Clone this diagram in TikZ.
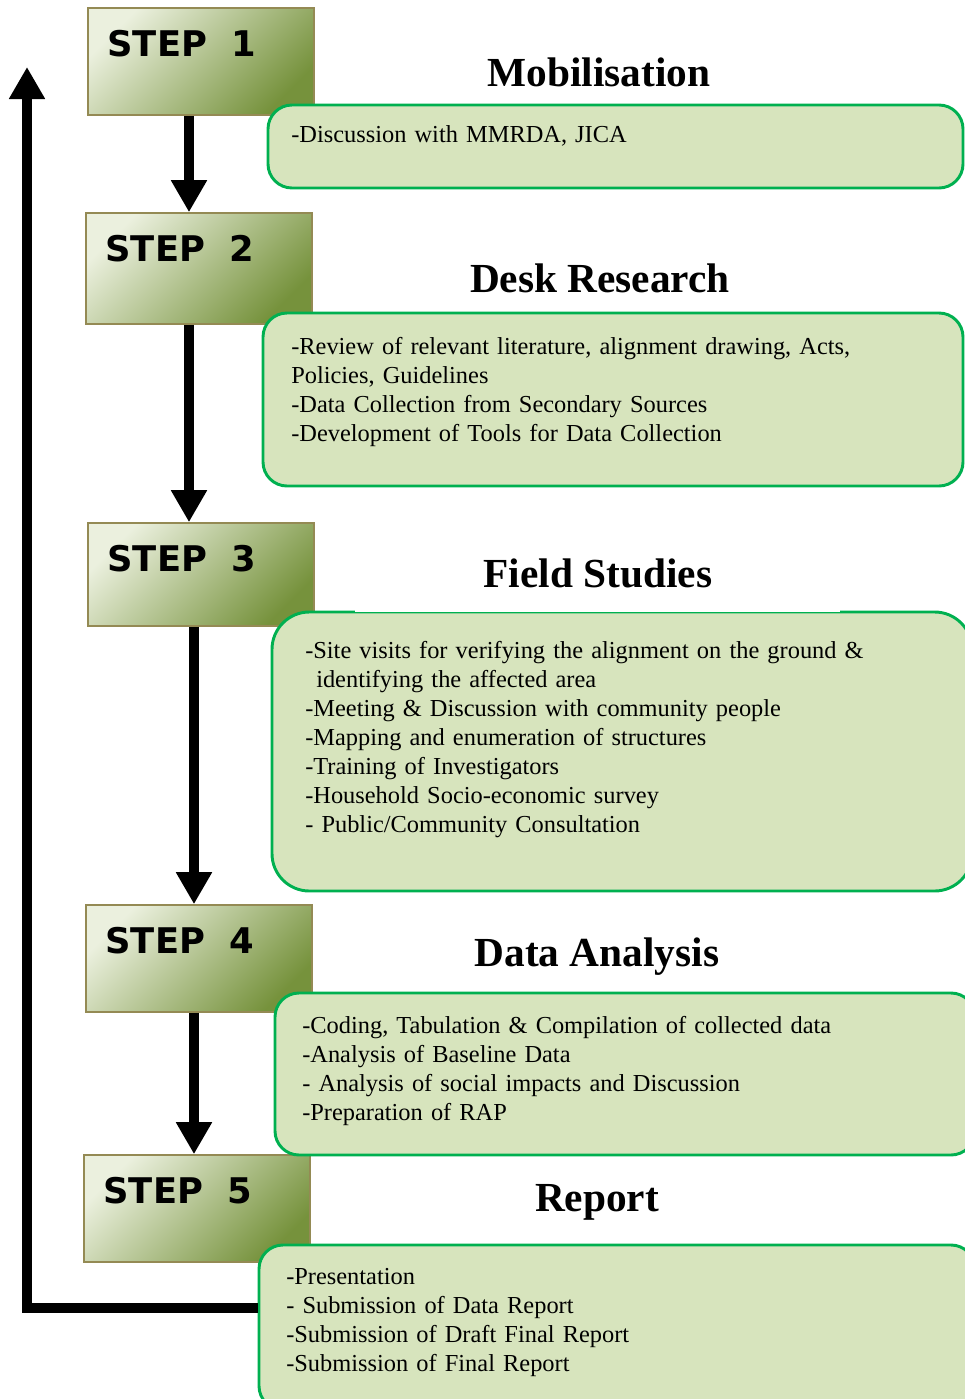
\documentclass[tikz,border=0pt]{standalone}
\usepackage{fontspec}
\setmainfont{Liberation Serif}
\newfontfamily\stepfont{DejaVu Sans}
\usetikzlibrary{arrows.meta}
\definecolor{stepLight}{HTML}{EBF0DE}
\definecolor{stepDark}{HTML}{76923C}
\definecolor{stepEdge}{HTML}{948A54}
\definecolor{boxFill}{HTML}{D7E4BD}
\definecolor{boxEdge}{HTML}{00B050}

\begin{document}
\begin{tikzpicture}[x=0.75pt,y=-0.75pt,>={Triangle[width=25.5pt,length=24pt]},
  stepbox/.style={draw=stepEdge,line width=1.2pt,top color=stepLight,bottom color=stepDark,shading angle=45,minimum width=169.5pt,inner sep=0pt},
  steplabel/.style={anchor=base west,inner sep=0pt,font=\stepfont\bfseries\fontsize{26.5pt}{30pt}\selectfont},
  heading/.style={anchor=base,inner sep=0pt,font=\bfseries\fontsize{31pt}{36pt}\selectfont},
  infobox/.style={draw=boxEdge,fill=boxFill,line width=2.2pt,rounded corners=18pt,inner sep=0pt},
  info/.style={anchor=base west,text width=500pt,align=left,inner sep=0pt,font=\fontsize{18.3pt}{21.75pt}\selectfont},
  flow/.style={->,line width=7.5pt}]
  \useasboundingbox (0,0) rectangle (964,1399);

  % step boxes
  \foreach \n/\x/\y/\h in {1/201/61.5/80.25, 2/199/268.5/83.25, 3/201/574.5/77.25, 4/199/958.5/80.25, 5/197/1208.5/80.25}{
    \node[stepbox,minimum height=\h pt] (s\n) at (\x,\y) {};
    \node[steplabel] (l\n) at ([shift={(20,49)}]s\n.north west) {STEP\hspace{0.7em}\n};
  }

  % green boxes
  \node[infobox,minimum width=521.25pt,minimum height=62.25pt] (b1) at (615.5,146.5) {};
  \node[infobox,minimum width=525pt,minimum height=129.75pt] (b2) at (613,399.5) {};
  \node[infobox,rounded corners=28pt,minimum width=525pt,minimum height=209.25pt] (b3) at (622,751.5) {};
  \fill[white] (355,608) rectangle (840,612.3);
  \node[infobox,minimum width=525pt,minimum height=121.5pt] (b4) at (625,1074) {};
  \node[infobox,minimum width=537pt,minimum height=123.75pt] (b5) at (617,1327.5) {};

  % headings
  \node[heading] (t1) at (599,86) {Mobilisation};
  \node[heading] (t2) at (600,292) {Desk Research};
  \node[heading] (t3) at (598,587) {Field Studies};
  \node[heading] (t4) at (597,966) {Data Analysis};
  \node[heading] (t5) at (597,1211) {Report};

  % box texts
  \node[info] (x1) at (291,142) {-Discussion with MMRDA, JICA};
  \node[info] (x2) at (291,354) {-Review of relevant literature, alignment drawing, Acts,\\
    Policies, Guidelines\\
    -Data Collection from Secondary Sources\\
    -Development of Tools for Data Collection};
  \node[info] (x3) at (305,658) {-Site visits for verifying the alignment on the ground \&\\
    \hspace*{0.45em}identifying the affected area\\
    -Meeting \& Discussion with community people\\
    -Mapping and enumeration of structures\\
    -Training of Investigators\\
    -Household Socio-economic survey\\
    - Public/Community Consultation};
  \node[info] (x4) at (302,1033) {-Coding, Tabulation \& Compilation of collected data\\
    -Analysis of Baseline Data\\
    - Analysis of social impacts and Discussion\\
    -Preparation of RAP};
  \node[info] (x5) at (286,1284) {-Presentation\\
    - Submission of Data Report\\
    -Submission of Draft Final Report\\
    -Submission of Final Report};

  % arrows
  \draw[flow] ([shift={(-12,0)}]s1.south) -- ([shift={(-10,0)}]s2.north);
  \draw[flow] ([shift={(-10,0)}]s2.south) -- ([shift={(-12,0)}]s3.north);
  \draw[flow] ([shift={(-7,0)}]s3.south) -- ([shift={(-5,0)}]s4.north);
  \draw[flow] ([shift={(-5,0)}]s4.south) -- ([shift={(-3,0)}]s5.north);
  \coordinate (top) at (27,67);
  \draw[flow] ([shift={(0,-20)}]b5.west) -| (top);
\end{tikzpicture}
\end{document}
